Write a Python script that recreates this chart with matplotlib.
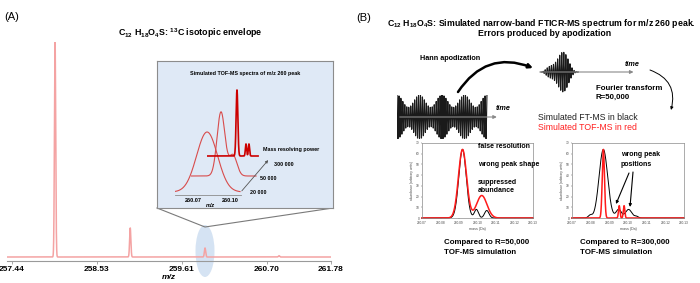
import numpy as np
import matplotlib.pyplot as plt
from matplotlib.patches import Ellipse

plt.rcParams['font.family'] = ['Liberation Sans', 'DejaVu Sans']
plt.rcParams['mathtext.default'] = 'regular'

# ---------------- data ----------------
# (A) isotopic envelope: m/z, relative abundance
iso_mz = [257.99, 258.95, 259.905, 260.85]
iso_abund = [100, 13.5, 4.2, 0.6]
mz_ticks = [257.44, 258.525, 259.61, 260.695, 261.51]
mz_ticklabels = ['257.44', '258.53', '259.61', '260.70', '261.78']

# inset: simulated TOF-MS of the m/z 260 peak at three resolving powers
tof_powers = ['20 000', '50 000', '300 000']
tof_centers = [[260.0814], [260.0797, 260.0894], [260.0797, 260.0870, 260.0894]]
tof_heights = [[60], [64, 21], [66, 12, 12]]
tof_widths = [[0.0085], [0.0032, 0.0032], [0.0007, 0.0005, 0.0005]]
tof_ranges = [(260.0554, 260.1081), (260.0554, 260.1081), (260.0554, 260.0968)]
inset_ticks = [260.07, 260.10]

# (B) time domain transient (component cycles / amplitudes)
fid_cycles = [46, 50, 42]
fid_amps = [0.72, 0.17, 0.11]
apod_cycles = [18, 19.5, 16.5]

# (B) narrow band spectra, R=50,000 comparison
ft50_centers = [260.0919, 260.0994, 260.1050]
ft50_heights = [64, 8, 7]
ft50_widths = [0.0020, 0.0011, 0.0012]
tof50_centers = [260.0919, 260.1023]
tof50_heights = [64, 21]
tof50_widths = [0.0022, 0.0028]

# (B) R=300,000 comparison
ft300_centers = [260.0797, 260.0868, 260.0950, 260.1003, 260.1045]
ft300_heights = [2.5, 64, 8, 8, 1.5]
ft300_widths = [0.0010, 0.0023, 0.0014, 0.0017, 0.0010]
tof300_centers = [260.0868, 260.0953, 260.0979]
tof300_heights = [64, 11.5, 11.5]
tof300_widths = [0.0006, 0.0004, 0.0004]

mass_ticks = [260.07, 260.08, 260.09, 260.10, 260.11, 260.12, 260.13]

# ---------------- figure ----------------
W, H = 700, 283
fig = plt.figure(figsize=(W / 100, H / 100), dpi=100)


def px_axes(x0, y0, x1, y1, z=1):
    ax = fig.add_axes([x0 / W, 1 - y1 / H, (x1 - x0) / W, (y1 - y0) / H], zorder=z)
    ax.patch.set_alpha(0)
    return ax


def profile(x, centers, heights, widths):
    y = np.zeros_like(x)
    for c, h, w in zip(centers, heights, widths):
        y += h * np.exp(-0.5 * ((x - c) / w) ** 2)
    return y


def transient(t, cycles, amps):
    return sum(a * np.cos(2 * np.pi * f * t) for f, a in zip(cycles, amps))


bg = px_axes(0, 0, W, H, z=0)
bg.set_xlim(0, W)
bg.set_ylim(H, 0)
bg.axis('off')
fg = px_axes(0, 0, W, H, z=10)
fg.set_xlim(0, W)
fg.set_ylim(H, 0)
fg.axis('off')

bold = dict(fontweight='bold')

# ---------- panel A ----------
fg.text(4, 17, '(A)', fontsize=8, va='center')
fg.text(190, 33, 'C$_{12}$ H$_{18}$O$_4$S: $^{13}$C isotopic envelope',
        fontsize=6.4, ha='center', va='center', **bold)

bg.add_patch(Ellipse((205, 251), 19, 52, facecolor='#d5e3f3', edgecolor='none'))
bg.plot([157, 205, 333], [208, 227, 208], color='#7a7a7a', lw=0.8)

ax = px_axes(7, 42, 331, 261, z=1)
x = np.linspace(257.376, 261.514, 8000)
ax.plot(x, profile(x, iso_mz, iso_abund, [0.008] * 4), color='#f4a3a3', lw=1.1)
ax.set_xlim(257.376, 261.514)
ax.set_ylim(-1.86, 100)
for s in ['top', 'right', 'left']:
    ax.spines[s].set_visible(False)
ax.spines['bottom'].set_color('#9a9a9a')
ax.spines['bottom'].set_linewidth(0.8)
ax.set_yticks([])
ax.set_xticks(mz_ticks, mz_ticklabels, fontsize=6, fontweight='bold')
ax.tick_params(axis='x', length=2, width=0.6, color='#9a9a9a', pad=1.5)
ax.set_xlabel('m/z', fontsize=6, fontweight='bold', style='italic', labelpad=0.5)

# inset
inset = px_axes(157, 61, 333, 208, z=2)
inset.patch.set_alpha(1)
inset.set_facecolor('#dfe9f6')
inset.set_xticks([])
inset.set_yticks([])
for s in inset.spines.values():
    s.set_color('#8c8c8c')
    s.set_linewidth(0.8)
fg.text(245, 73, 'Simulated TOF-MS spectra of m/z 260 peak', fontsize=3.9,
        ha='center', va='center', **bold)

tof_boxes = [(175, 192), (191, 176), (207, 156)]
tof_colors = ['#d84c4c', '#d84c4c', '#cc0000']
tof_lw = [0.8, 0.8, 1.2]
for i in range(3):
    x0, yb = tof_boxes[i]
    a = px_axes(x0, yb - 70, x0 + 66, yb + 3, z=3)
    lo, hi = tof_ranges[i]
    xx = np.linspace(lo, hi, 1500)
    a.plot(xx, profile(xx, tof_centers[i], tof_heights[i], tof_widths[i]),
           color=tof_colors[i], lw=tof_lw[i])
    a.set_xlim(260.0554, 260.1089)
    a.set_ylim(-3, 70)
    a.set_yticks([])
    for s in ['top', 'right', 'left']:
        a.spines[s].set_visible(False)
    if i == 0:
        a.spines['bottom'].set_color('#8c8c8c')
        a.spines['bottom'].set_linewidth(0.6)
        a.set_xticks(inset_ticks, ['%.2f' % t for t in inset_ticks], fontsize=4, fontweight='bold')
        a.tick_params(axis='x', length=0, pad=2)
    else:
        a.spines['bottom'].set_visible(False)
        a.set_xticks([])
fg.text(210, 205.5, 'm/z', fontsize=4, style='italic', ha='center', va='center', **bold)
fg.annotate('', xy=(270, 158), xytext=(240, 193),
            arrowprops=dict(arrowstyle='-|>', color='#555555', lw=0.6, mutation_scale=4))
fg.text(263, 149, 'Mass resolving power', fontsize=3.9, va='center', **bold)
for lab, (lx, ly) in zip(tof_powers, [(250, 193), (260, 179), (274, 165)]):
    fg.text(lx, ly, lab, fontsize=3.9, va='center', **bold)

# ---------- panel B ----------
fg.text(356, 18, '(B)', fontsize=8, va='center')
fg.text(541, 23, 'C$_{12}$ H$_{18}$O$_4$S: Simulated narrow-band FTICR-MS spectrum for m/z 260 peak.',
        fontsize=6.3, ha='center', va='center', **bold)
fg.text(545, 33.5, 'Errors produced by apodization', fontsize=6.3, ha='center', va='center', **bold)

# raw transient
a = px_axes(397, 95, 505, 139, z=3)
t = np.linspace(0, 1, 5000)
a.plot(t, transient(t, fid_cycles, fid_amps), color='#1a1a1a', lw=0.8)
a.annotate('', xy=(1.14, 0), xytext=(0, 0),
           arrowprops=dict(arrowstyle='-|>', color='#8a8a8a', lw=0.8, mutation_scale=5))
a.set_xlim(0, 1.2)
a.set_ylim(-1, 1)
a.axis('off')
fg.text(503, 108, 'time', fontsize=5.2, style='italic', ha='center', va='center', **bold)

# apodized transient
a = px_axes(537, 50, 640, 94, z=3)
t = np.linspace(0, 1, 3000)
a.plot(t * 1.2 + 0.13, transient(t, apod_cycles, fid_amps) * np.hanning(len(t)),
       color='#1a1a1a', lw=0.8)
a.annotate('', xy=(3.2, 0), xytext=(0, 0),
           arrowprops=dict(arrowstyle='-|>', color='#8a8a8a', lw=0.8, mutation_scale=5))
a.set_xlim(0, 3.32)
a.set_ylim(-0.95, 0.95)
a.axis('off')
fg.text(632, 64, 'time', fontsize=5.2, style='italic', ha='center', va='center', **bold)

fg.annotate('', xy=(533, 68), xytext=(458, 92),
            arrowprops=dict(arrowstyle='-|>', color='black', lw=1.8, mutation_scale=6,
                            connectionstyle='arc3,rad=-0.4', shrinkA=0, shrinkB=0))
fg.text(420, 59, 'Hann apodization', fontsize=5.2, va='center', **bold)

fg.annotate('', xy=(671, 110), xytext=(650, 70),
            arrowprops=dict(arrowstyle='-|>', color='black', lw=0.7, mutation_scale=4,
                            connectionstyle='arc3,rad=-0.45', shrinkA=0, shrinkB=0))
fg.text(596, 88, 'Fourier transform', fontsize=5.7, va='center', **bold)
fg.text(596, 97, 'R=50,000', fontsize=5.7, va='center', **bold)
fg.text(538, 117.5, 'Simulated FT-MS in black', fontsize=6.3, va='center', color='#222222')
fg.text(538, 127, 'Simulated TOF-MS in red', fontsize=6.3, va='center', color='#ff2020')

# narrow band spectra
xm = np.linspace(260.07, 260.13, 3000)
spec = [((422, 143, 533, 218), ft50_centers, ft50_heights, ft50_widths,
         tof50_centers, tof50_heights, tof50_widths),
        ((572, 143, 684, 218), ft300_centers, ft300_heights, ft300_widths,
         tof300_centers, tof300_heights, tof300_widths)]
for box, fc, fh, fw, tc, th, tw in spec:
    a = px_axes(*box, z=3)
    a.patch.set_alpha(1)
    a.set_facecolor('white')
    a.plot(xm, profile(xm, fc, fh, fw), color='black', lw=0.7, clip_on=False)
    a.plot(xm, profile(xm, tc, th, tw), color='#ff1a1a', lw=1.1, clip_on=False)
    a.set_xlim(260.07, 260.13)
    a.set_ylim(0, 70)
    a.set_xticks(mass_ticks, ['%.2f' % m for m in mass_ticks], fontsize=2.3)
    a.set_yticks(range(0, 71, 10), [str(v) for v in range(0, 71, 10)], fontsize=2.3)
    a.tick_params(length=1, width=0.3, pad=1, colors='#444444')
    for s in a.spines.values():
        s.set_color('#8a8a8a')
        s.set_linewidth(0.5)
    a.set_xlabel('mass (Da)', fontsize=2.6, labelpad=1.5, color='#444444')
    a.set_ylabel('abundance (arbitrary units)', fontsize=2.3, labelpad=1, color='#444444')

fg.text(478, 147, 'false resolution', fontsize=5, va='center', **bold)
fg.text(478, 165, 'wrong peak shape', fontsize=5, va='center', **bold)
fg.text(478, 182, 'suppressed', fontsize=5, va='center', **bold)
fg.text(478, 190.5, 'abundance', fontsize=5, va='center', **bold)

fg.text(621, 155, 'wrong peak', fontsize=5, va='center', **bold)
fg.text(621, 164, 'positions', fontsize=5, va='center', **bold)
fg.annotate('', xy=(616, 204), xytext=(629, 173),
            arrowprops=dict(arrowstyle='-|>', color='black', lw=0.8, mutation_scale=4,
                            shrinkA=0, shrinkB=0))
fg.annotate('', xy=(630, 207), xytext=(633, 172),
            arrowprops=dict(arrowstyle='-|>', color='black', lw=0.8, mutation_scale=4,
                            shrinkA=0, shrinkB=0))

fg.text(444, 243, 'Compared to R=50,000', fontsize=5.7, va='center', **bold)
fg.text(444, 252, 'TOF-MS simulation', fontsize=5.7, va='center', **bold)
fg.text(580, 243, 'Compared to R=300,000', fontsize=5.7, va='center', **bold)
fg.text(580, 252, 'TOF-MS simulation', fontsize=5.7, va='center', **bold)

fig.savefig('out.png', dpi=100)
